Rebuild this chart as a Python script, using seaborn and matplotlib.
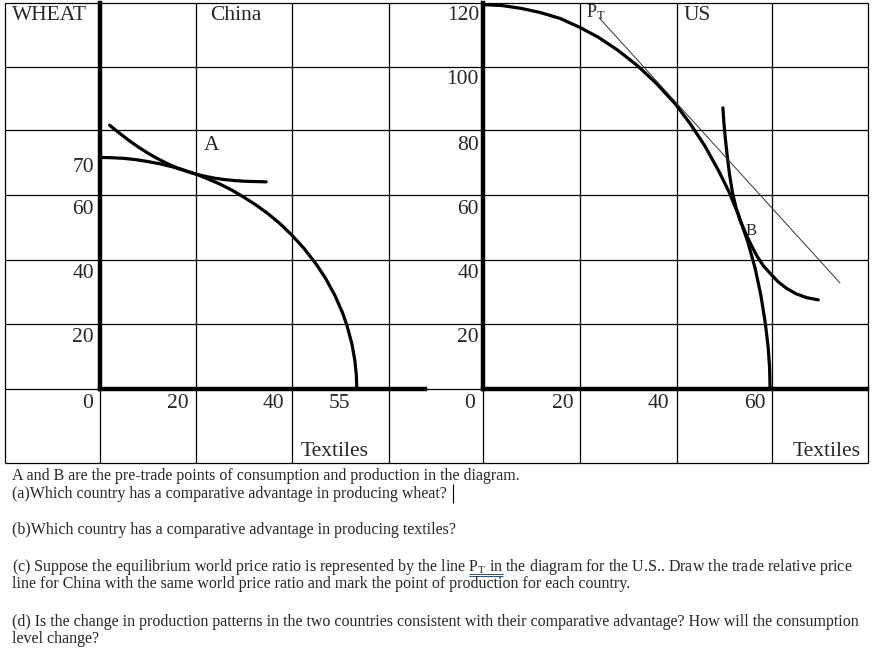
import matplotlib
matplotlib.use("Agg")
import matplotlib.pyplot as plt
import seaborn as sns
import pandas as pd

# China production possibility frontier (textiles, wheat)
china_ppf_textiles = [0, 2.5, 5, 7.5, 10, 12.5, 15, 17.5, 20, 22.5, 25, 27.5, 30, 32.5, 35,
                      37.5, 40, 42.5, 45, 47, 49, 50.5, 51.5, 52.5, 53.1, 53.4, 53.5]
china_ppf_wheat = [72, 71.9, 71.7, 71.3, 70.7, 70.0, 69.1, 68.0, 66.8, 65.3, 63.7, 61.8, 59.6, 57.2, 54.5,
                   51.4, 47.8, 43.7, 38.9, 34.4, 28.9, 23.8, 19.5, 13.9, 8.8, 4.4, 0]

# China indifference curve through A
china_ic_textiles = [2, 4, 6, 8, 10, 12, 14, 16, 18, 20, 22, 24, 26, 28, 30, 32, 34.6]
china_ic_wheat = [82, 79.6, 77.3, 75.2, 73.3, 71.6, 70.1, 68.8, 67.7, 66.8, 66.1, 65.5, 65.1, 64.8, 64.6, 64.5, 64.4]

# US production possibility frontier
us_ppf_textiles = [0, 4, 8, 12, 16, 20, 24, 28, 32, 36, 40, 43, 46, 49, 51, 53, 55,
                   56.5, 57.7, 58.6, 59.2, 59.5, 59.6]
us_ppf_wheat = [119.5, 119.2, 118.3, 117, 115.2, 112.5, 109.3, 105.3, 100.6, 95, 88.5, 82.5, 75.7, 67.6, 61.5, 54.3, 45.6,
                37.5, 29, 20.5, 13, 6.5, 0]

# US indifference curve through B
us_ic_textiles = [49.8, 50.0, 50.3, 50.7, 51.2, 51.8, 52.5, 53.4, 54.4, 55.5, 56.8, 58.2,
                  59.7, 61.3, 63.0, 65.0, 67.2, 69.6]
us_ic_wheat = [87.4, 83, 78, 72.5, 66.5, 61, 56.5, 52.3, 48.8, 45.3, 41.5, 38.3,
               35.8, 33.3, 31.3, 29.6, 28.4, 27.7]

# world price line PT
pt_textiles = [24.1, 74.1]
pt_wheat = [115.4, 33.0]

china_y_labels = ["70", "60", "40", "20"]
china_x_labels = ["20", "40", "55"]
us_y_labels = ["120", "100", "80", "60", "40", "20"]
us_x_labels = ["20", "40", "60"]

question_lines = [
    "A and B are the pre-trade points of consumption and production in the diagram.",
    "(a)Which country has a comparative advantage in producing wheat?",
    "(b)Which country has a comparative advantage in producing textiles?",
    "(c) Suppose the equilibrium world price ratio is represented by the line P$_\\mathrm{T}$ in the diagram for the U.S.. Draw the trade relative price",
    "line for China with the same world price ratio and mark the point of production for each country.",
    "(d) Is the change in production patterns in the two countries consistent with their comparative advantage? How will the consumption",
    "level change?",
]

sns.set_style("white")
plt.rcParams['font.family'] = ['Liberation Serif', 'DejaVu Serif']
plt.rcParams['mathtext.fontset'] = 'custom'
plt.rcParams['mathtext.rm'] = 'Liberation Serif'
plt.rcParams['mathtext.it'] = 'Liberation Serif:italic'

W, H = 882, 672
fig = plt.figure(figsize=(W / 100, H / 100), dpi=100)
fig.patch.set_facecolor('white')

# background layer in pixel coordinates: the table and its text
bg = fig.add_axes([0, 0, 1, 1])
bg.set_xlim(0, W)
bg.set_ylim(H, 0)
bg.axis('off')

col_x = [5, 100, 196, 292, 389, 483, 580, 677, 772, 868]
row_y = [3, 67, 130, 195, 260, 324, 389, 463]
bg.vlines(col_x, row_y[0], row_y[-1], color='black', lw=0.9)
bg.hlines(row_y, col_x[0], col_x[-1], color='black', lw=0.9)

fs = 15.5
bg.text(12, 15, "WHEAT", fontsize=fs, va='center', ha='left')
bg.text(210, 15, "China", fontsize=fs, va='center', ha='left')
bg.text(204, 145, "A", fontsize=fs, va='center', ha='left')
for lab, y in zip(china_y_labels, [168, 209, 273, 337]):
    bg.text(94, y, lab, fontsize=fs, va='center', ha='right')
bg.text(88, 404, "0", fontsize=fs, va='center', ha='center')
for lab, x in zip(china_x_labels, [178, 273, 339]):
    bg.text(x, 404, lab, fontsize=fs, va='center', ha='center')
bg.text(335, 452, "Textiles", fontsize=fs, va='center', ha='center')

for lab, y in zip(us_y_labels, [15, 80, 145, 209, 273, 337]):
    bg.text(479, y, lab, fontsize=fs, va='center', ha='right')
bg.text(470, 404, "0", fontsize=fs, va='center', ha='center')
for lab, x in zip(us_x_labels, [563, 658, 755]):
    bg.text(x, 404, lab, fontsize=fs, va='center', ha='center')
bg.text(684, 15, "US", fontsize=fs, va='center', ha='left')
bg.text(827, 452, "Textiles", fontsize=fs, va='center', ha='center')
bg.text(746, 231, "B", fontsize=12, va='center', ha='left')
bg.text(586, 12, "P$_\\mathrm{T}$", fontsize=13, va='center', ha='left')

for line, y in zip(question_lines, [476, 494, 530, 567, 584, 622, 639]):
    bg.text(12, y, line, fontsize=11.5, va='center', ha='left')
bg.vlines(453, 484, 503, color='black', lw=0.8)
bg.hlines([574, 576], 469, 503, color='#2a4d8f', lw=0.7)


def frame(left, right, xmax):
    ax = fig.add_axes([left / W, (H - 389) / H, (right - left) / W, (389 - 3) / H])
    ax.set_xlim(0, xmax)
    ax.set_ylim(0, 120)
    ax.patch.set_alpha(0)
    for s in ['top', 'right']:
        ax.spines[s].set_visible(False)
    for s in ['left', 'bottom']:
        ax.spines[s].set_linewidth(3.2)
        ax.spines[s].set_color('black')
    ax.set_xticks([])
    ax.set_yticks([])
    return ax


ax_cn = frame(100, 425, 325 / 4.8)
ax_us = frame(483, 867, 384 / 4.817)


def curve(ax, xs, ys, lw=2.3, color='black'):
    df = pd.DataFrame({'textiles': xs, 'wheat': ys})
    sns.lineplot(data=df, x='textiles', y='wheat', ax=ax, sort=False,
                 estimator=None, color=color, lw=lw, clip_on=False,
                 solid_joinstyle='round')
    ax.set_xlabel('')
    ax.set_ylabel('')


curve(ax_cn, china_ppf_textiles, china_ppf_wheat)
curve(ax_cn, china_ic_textiles, china_ic_wheat)
curve(ax_us, us_ppf_textiles, us_ppf_wheat)
curve(ax_us, us_ic_textiles, us_ic_wheat)
curve(ax_us, pt_textiles, pt_wheat, lw=0.7, color='#333333')

fig.savefig("out.png", dpi=100, facecolor='white')
